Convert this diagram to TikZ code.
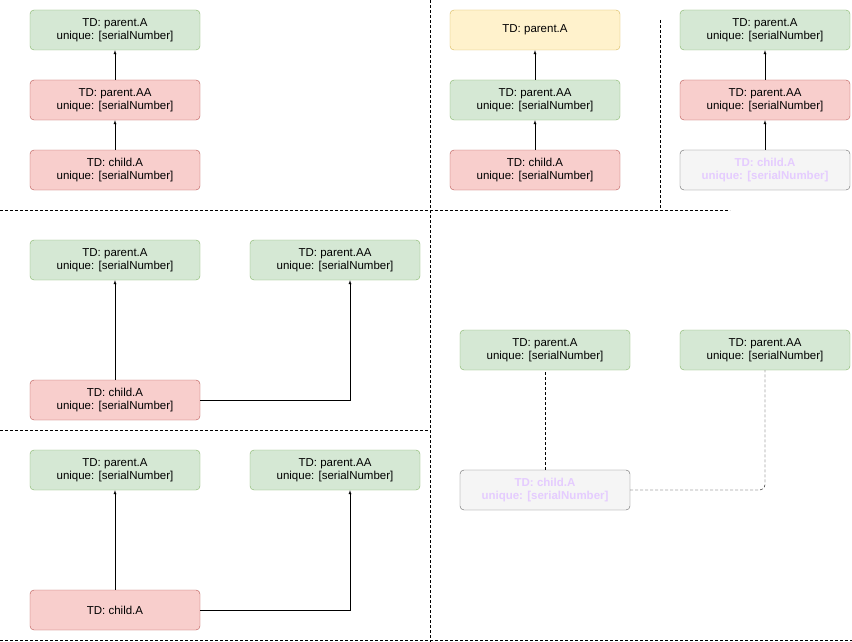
\documentclass[tikz,border=0pt]{standalone}
\usepackage{fontspec}
\setmainfont{Liberation Sans}
\usetikzlibrary{positioning, arrows}

\definecolor{grfill}{HTML}{D5E8D4}\definecolor{grline}{HTML}{82B366}
\definecolor{rdfill}{HTML}{F8CECC}\definecolor{rdline}{HTML}{B85450}
\definecolor{ylfill}{HTML}{FFF2CC}\definecolor{ylline}{HTML}{D6B656}
\definecolor{gyfill}{HTML}{F5F5F5}\definecolor{gyline}{HTML}{666666}
\definecolor{ghost}{HTML}{E5CCFF}

\tikzset{
  td/.style={draw,rounded corners=4pt,minimum width=170pt,minimum height=40pt,
    align=center,font=\fontsize{11.5}{13}\selectfont,inner sep=0pt},
  ok/.style={td,fill=grfill,draw=grline},
  bad/.style={td,fill=rdfill,draw=rdline},
  warn/.style={td,fill=ylfill,draw=ylline},
  gone/.style={td,fill=gyfill,draw=gyline,text=ghost,font=\fontsize{11.5}{13}\selectfont\bfseries},
  link/.style={-latex,thin},
  sep/.style={densely dashed,thin}
}

\begin{document}
\begin{tikzpicture}[x=1pt,y=-1pt]
	\useasboundingbox (0,0) rectangle (852,642);

	% separators
	\draw[sep] (0,210) -- (730,210);
	\draw[sep] (0,430) -- (430,430);
	\draw[sep] (0,640) -- (852,640);
	\draw[sep] (430,0) -- (430,642);
	\draw[sep] (660,20) -- (660,210);

	% top left
	\node[ok] (a1) at (115,30) {TD: parent.A\\unique: [serialNumber]};
	\node[bad] (aa1) at (115,100) {TD: parent.AA\\unique: [serialNumber]};
	\node[bad] (c1) at (115,170) {TD: child.A\\unique: [serialNumber]};
	\draw[link] (c1) -- (aa1);
	\draw[link] (aa1) -- (a1);

	% top middle
	\node[warn] (a2) at (535,30) {TD: parent.A};
	\node[ok] (aa2) at (535,100) {TD: parent.AA\\unique: [serialNumber]};
	\node[bad] (c2) at (535,170) {TD: child.A\\unique: [serialNumber]};
	\draw[link] (c2) -- (aa2);
	\draw[link] (aa2) -- (a2);

	% top right
	\node[ok] (a3) at (765,30) {TD: parent.A\\unique: [serialNumber]};
	\node[bad] (aa3) at (765,100) {TD: parent.AA\\unique: [serialNumber]};
	\node[gone] (c3) at (765,170) {TD: child.A\\unique: [serialNumber]};
	\draw[link] (c3) -- (aa3);
	\draw[link] (aa3) -- (a3);

	% middle left
	\node[ok] (a4) at (115,260) {TD: parent.A\\unique: [serialNumber]};
	\node[ok] (aa4) at (335,260) {TD: parent.AA\\unique: [serialNumber]};
	\node[bad] (c4) at (115,400) {TD: child.A\\unique: [serialNumber]};
	\draw[link] (c4) -- (a4);
	\draw[link] (c4.east) -| ([xshift=15pt]aa4.south);

	% bottom left
	\node[ok] (a5) at (115,470) {TD: parent.A\\unique: [serialNumber]};
	\node[ok] (aa5) at (335,470) {TD: parent.AA\\unique: [serialNumber]};
	\node[bad] (c5) at (115,610) {TD: child.A};
	\draw[link] (c5) -- (a5);
	\draw[link] (c5.east) -| ([xshift=15pt]aa5.south);

	% right middle
	\node[ok] (a6) at (545,350) {TD: parent.A\\unique: [serialNumber]};
	\node[ok] (aa6) at (765,350) {TD: parent.AA\\unique: [serialNumber]};
	\node[gone] (c6) at (545,490) {TD: child.A\\unique: [serialNumber]};
	\draw[sep] (c6) -- (a6);
	\draw[sep,rounded corners=5pt] (c6.east) -| (aa6.south);
\end{tikzpicture}
\end{document}
